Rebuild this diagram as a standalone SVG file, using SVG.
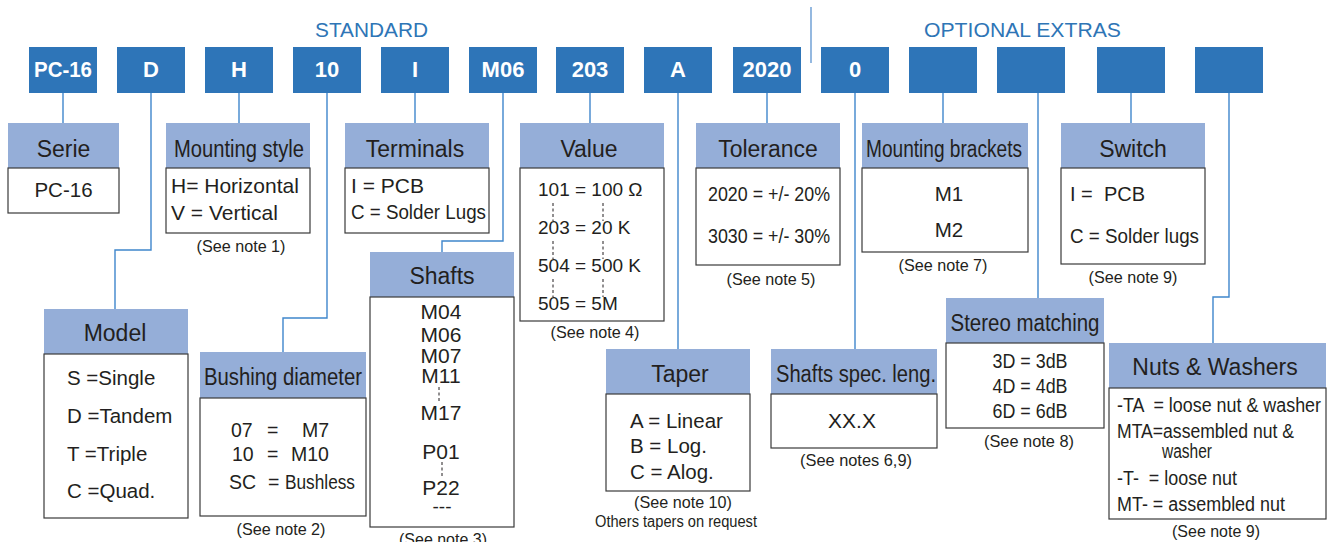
<svg xmlns="http://www.w3.org/2000/svg" width="1329" height="542" viewBox="0 0 1329 542">
<defs>
<linearGradient id="topg" x1="0" y1="0" x2="1" y2="0">
<stop offset="0" stop-color="#c6d4ef"/>
<stop offset="1" stop-color="#3a78c0"/>
</linearGradient>
<style>
.code{fill:#2e75b8}
.ct{fill:#ffffff;font-family:"Liberation Sans",Arial,sans-serif;font-weight:bold;font-size:22px;text-anchor:middle}
.hdr{fill:#95aed8}
.body{fill:#ffffff;stroke:#3a3a3a;stroke-width:1.2}
.h{fill:#231f20;font-family:"Liberation Sans",Arial,sans-serif;font-size:23px;text-anchor:middle}
.t{fill:#231f20;font-family:"Liberation Sans",Arial,sans-serif;font-size:19.5px}
.tc{fill:#231f20;font-family:"Liberation Sans",Arial,sans-serif;font-size:19.5px;text-anchor:middle}
.n{fill:#231f20;font-family:"Liberation Sans",Arial,sans-serif;font-size:17px;text-anchor:middle}
.sec{fill:#2e75b6;font-family:"Liberation Sans",Arial,sans-serif;font-size:20.5px}
.c{fill:none;stroke:#3f86cc;stroke-width:1.4}
.d{fill:none;stroke:#231f20;stroke-width:1;stroke-dasharray:3 2.5}
</style>
</defs>
<rect width="1329" height="542" fill="#ffffff"/>
<line x1="0" y1="0.8" x2="1324" y2="0.8" stroke="url(#topg)" stroke-width="1.6"/>
<line x1="811" y1="7" x2="811" y2="63" stroke="#5b93cf" stroke-width="1.3"/>
<text class="sec" x="315" y="37" textLength="113" lengthAdjust="spacingAndGlyphs">STANDARD</text>
<text class="sec" x="924" y="37" textLength="197" lengthAdjust="spacingAndGlyphs">OPTIONAL EXTRAS</text>

<g id="connectors">
<path class="c" d="M63,93 V123"/>
<path class="c" d="M151,93 V250 H115 V309"/>
<path class="c" d="M239,93 V123"/>
<path class="c" d="M327,93 V318 H283 V352"/>
<path class="c" d="M415,93 V123"/>
<path class="c" d="M503,93 V241 H442 V252"/>
<path class="c" d="M590,93 V123"/>
<path class="c" d="M678,93 V349"/>
<path class="c" d="M767,93 V123"/>
<path class="c" d="M855,93 V349"/>
<path class="c" d="M943,93 V123"/>
<path class="c" d="M1038,93 V298"/>
<path class="c" d="M1131,93 V123"/>
<path class="c" d="M1229,93 V297 H1213 V343"/>
</g>

<g id="codes">
<rect class="code" x="29" y="47" width="68" height="46"/><text class="ct" x="63" y="77" textLength="58" lengthAdjust="spacingAndGlyphs">PC-16</text>
<rect class="code" x="117" y="47" width="68" height="46"/><text class="ct" x="151" y="77">D</text>
<rect class="code" x="205" y="47" width="68" height="46"/><text class="ct" x="239" y="77">H</text>
<rect class="code" x="293" y="47" width="68" height="46"/><text class="ct" x="327" y="77">10</text>
<rect class="code" x="381" y="47" width="68" height="46"/><text class="ct" x="415" y="77">I</text>
<rect class="code" x="469" y="47" width="68" height="46"/><text class="ct" x="503" y="77">M06</text>
<rect class="code" x="556" y="47" width="68" height="46"/><text class="ct" x="590" y="77">203</text>
<rect class="code" x="644" y="47" width="68" height="46"/><text class="ct" x="678" y="77">A</text>
<rect class="code" x="733" y="47" width="68" height="46"/><text class="ct" x="767" y="77">2020</text>
<rect class="code" x="821" y="47" width="68" height="46"/><text class="ct" x="855" y="77">0</text>
<rect class="code" x="909" y="47" width="68" height="46"/>
<rect class="code" x="997" y="47" width="68" height="46"/>
<rect class="code" x="1097" y="47" width="68" height="46"/>
<rect class="code" x="1195" y="47" width="68" height="46"/>
</g>

<g id="serie">
<rect class="hdr" x="8" y="123" width="111" height="45"/>
<rect class="body" x="8" y="168" width="111" height="45"/>
<text class="h" x="63.5" y="157">Serie</text>
<text class="tc" x="63.5" y="197" style="font-size:20.5px">PC-16</text>
</g>

<g id="mounting-style">
<rect class="hdr" x="166" y="123" width="144" height="45"/>
<rect class="body" x="166" y="168" width="144" height="65"/>
<text class="h" x="239" y="157" textLength="130" lengthAdjust="spacingAndGlyphs">Mounting style</text>
<text class="t" x="171" y="193" style="font-size:21px">H= Horizontal</text>
<text class="t" x="171" y="220" style="font-size:21px">V = Vertical</text>
<text class="n" x="241" y="252" textLength="89" lengthAdjust="spacingAndGlyphs">(See note 1)</text>
</g>

<g id="terminals">
<rect class="hdr" x="345" y="123" width="144" height="45"/>
<rect class="body" x="345" y="168" width="144" height="65"/>
<text class="h" x="415" y="157">Terminals</text>
<text class="t" x="351" y="193" style="font-size:21px">I = PCB</text>
<text class="t" x="351" y="219" textLength="135" lengthAdjust="spacingAndGlyphs">C = Solder Lugs</text>
</g>

<g id="value">
<rect class="hdr" x="520" y="123" width="144" height="45"/>
<rect class="body" x="520" y="168" width="144" height="153"/>
<text class="h" x="589" y="157">Value</text>
<text class="t" x="538" y="196" style="font-size:19px">101 = 100 Ω</text>
<text class="t" x="538" y="234" style="font-size:19px">203 = 20 K</text>
<text class="t" x="538" y="272" style="font-size:19px">504 = 500 K</text>
<text class="t" x="538" y="310" style="font-size:19px">505 = 5M</text>
<path class="d" d="M553,203 V221 M603,203 V221 M553,241 V259 M603,241 V259 M553,279 V297 M603,279 V297"/>
<text class="n" x="595" y="338" textLength="89" lengthAdjust="spacingAndGlyphs">(See note 4)</text>
</g>

<g id="tolerance">
<rect class="hdr" x="696" y="123" width="144" height="45"/>
<rect class="body" x="696" y="168" width="144" height="97"/>
<text class="h" x="768" y="157">Tolerance</text>
<text class="t" x="708" y="201" textLength="122" lengthAdjust="spacingAndGlyphs">2020 = +/- 20%</text>
<text class="t" x="708" y="243" textLength="122" lengthAdjust="spacingAndGlyphs">3030 = +/- 30%</text>
<text class="n" x="771" y="285" textLength="89" lengthAdjust="spacingAndGlyphs">(See note 5)</text>
</g>

<g id="mounting-brackets">
<rect class="hdr" x="862" y="123" width="166" height="45"/>
<rect class="body" x="862" y="168" width="166" height="84"/>
<text class="h" x="944" y="157" textLength="156" lengthAdjust="spacingAndGlyphs">Mounting brackets</text>
<text class="tc" x="949" y="201" style="font-size:20.5px">M1</text>
<text class="tc" x="949" y="237" style="font-size:20.5px">M2</text>
<text class="n" x="943" y="271" textLength="89" lengthAdjust="spacingAndGlyphs">(See note 7)</text>
</g>

<g id="switch">
<rect class="hdr" x="1061" y="123" width="144" height="45"/>
<rect class="body" x="1061" y="168" width="144" height="96"/>
<text class="h" x="1133" y="157">Switch</text>
<text class="t" x="1070" y="201" xml:space="preserve" style="font-size:20px">I =  PCB</text>
<text class="t" x="1070" y="243" textLength="129" lengthAdjust="spacingAndGlyphs">C = Solder lugs</text>
<text class="n" x="1133" y="283" textLength="89" lengthAdjust="spacingAndGlyphs">(See note 9)</text>
</g>

<g id="model">
<rect class="hdr" x="44" y="309" width="144" height="45"/>
<rect class="body" x="44" y="354" width="144" height="164"/>
<text class="h" x="115" y="341">Model</text>
<text class="t" x="67" y="385" style="font-size:20.5px">S =Single</text>
<text class="t" x="67" y="423" style="font-size:20.5px">D =Tandem</text>
<text class="t" x="67" y="461" style="font-size:20.5px">T =Triple</text>
<text class="t" x="67" y="498" style="font-size:20.5px">C =Quad.</text>
</g>

<g id="bushing-diameter">
<rect class="hdr" x="200" y="352" width="166" height="46"/>
<rect class="body" x="200" y="398" width="166" height="118"/>
<text class="h" x="283" y="385" textLength="158" lengthAdjust="spacingAndGlyphs">Bushing diameter</text>
<text class="t" x="231" y="437">07</text>
<text class="t" x="267" y="437">=</text>
<text class="t" x="302" y="437">M7</text>
<text class="t" x="232" y="461">10</text>
<text class="t" x="267" y="461">=</text>
<text class="t" x="291" y="461">M10</text>
<text class="t" x="229" y="489">SC</text>
<text class="t" x="268" y="489">=</text>
<text class="t" x="285" y="489" textLength="70" lengthAdjust="spacingAndGlyphs">Bushless</text>
<text class="n" x="281" y="535" textLength="89" lengthAdjust="spacingAndGlyphs">(See note 2)</text>
</g>

<g id="shafts">
<rect class="hdr" x="370" y="252" width="144" height="45"/>
<rect class="body" x="370" y="297" width="144" height="230"/>
<text class="h" x="442" y="284">Shafts</text>
<text class="tc" x="441" y="319" style="font-size:21px">M04</text>
<text class="tc" x="441" y="342" style="font-size:21px">M06</text>
<text class="tc" x="441" y="363" style="font-size:21px">M07</text>
<text class="tc" x="441" y="383" style="font-size:21px">M11</text>
<path class="d" d="M439,387 V403"/>
<text class="tc" x="441" y="420" style="font-size:21px">M17</text>
<text class="tc" x="441" y="459" style="font-size:21px">P01</text>
<path class="d" d="M442,462 V478"/>
<text class="tc" x="441" y="495" style="font-size:21px">P22</text>
<text class="tc" x="442" y="513" style="font-size:19px">---</text>
<text class="n" x="443" y="545" textLength="88" lengthAdjust="spacingAndGlyphs">(See note 3)</text>
</g>

<g id="taper">
<rect class="hdr" x="606" y="349" width="144" height="45"/>
<rect class="body" x="606" y="394" width="144" height="97"/>
<text class="h" x="680" y="382">Taper</text>
<text class="t" x="630" y="428" style="font-size:20.5px">A = Linear</text>
<text class="t" x="630" y="453" style="font-size:20.5px">B = Log.</text>
<text class="t" x="630" y="479" style="font-size:20.5px">C = Alog.</text>
<text class="n" x="683" y="508" textLength="98" lengthAdjust="spacingAndGlyphs">(See note 10)</text>
<text class="n" x="676" y="527" style="font-size:16px" textLength="162" lengthAdjust="spacingAndGlyphs">Others tapers on request</text>
</g>

<g id="shafts-spec-length">
<rect class="hdr" x="771" y="349" width="166" height="45"/>
<rect class="body" x="771" y="394" width="166" height="54"/>
<text class="h" x="856" y="382" textLength="160" lengthAdjust="spacingAndGlyphs">Shafts spec. leng.</text>
<text class="tc" x="852" y="428" style="font-size:21px">XX.X</text>
<text class="n" x="856" y="466" textLength="112" lengthAdjust="spacingAndGlyphs">(See notes 6,9)</text>
</g>

<g id="stereo-matching">
<rect class="hdr" x="946" y="298" width="158" height="45"/>
<rect class="body" x="946" y="343" width="158" height="85"/>
<text class="h" x="1025" y="331" textLength="149" lengthAdjust="spacingAndGlyphs">Stereo matching</text>
<text class="tc" x="1030" y="368" textLength="75" lengthAdjust="spacingAndGlyphs">3D = 3dB</text>
<text class="tc" x="1030" y="393" textLength="75" lengthAdjust="spacingAndGlyphs">4D = 4dB</text>
<text class="tc" x="1030" y="418" textLength="75" lengthAdjust="spacingAndGlyphs">6D = 6dB</text>
<text class="n" x="1029" y="447" textLength="90" lengthAdjust="spacingAndGlyphs">(See note 8)</text>
</g>

<g id="nuts-washers">
<rect class="hdr" x="1109" y="343" width="217" height="45"/>
<rect class="body" x="1109" y="388" width="217" height="131"/>
<text class="h" x="1215" y="375">Nuts &amp; Washers</text>
<text class="t" x="1117" y="412" xml:space="preserve" textLength="204" lengthAdjust="spacingAndGlyphs">-TA  = loose nut &amp; washer</text>
<text class="t" x="1117" y="438" textLength="177" lengthAdjust="spacingAndGlyphs">MTA=assembled nut &amp;</text>
<text class="t" x="1162" y="458" textLength="50" lengthAdjust="spacingAndGlyphs">washer</text>
<text class="t" x="1117" y="485" xml:space="preserve" textLength="120" lengthAdjust="spacingAndGlyphs">-T-  = loose nut</text>
<text class="t" x="1117" y="511" textLength="168" lengthAdjust="spacingAndGlyphs">MT- = assembled nut</text>
<text class="n" x="1216" y="537" textLength="88" lengthAdjust="spacingAndGlyphs">(See note 9)</text>
</g>
</svg>
